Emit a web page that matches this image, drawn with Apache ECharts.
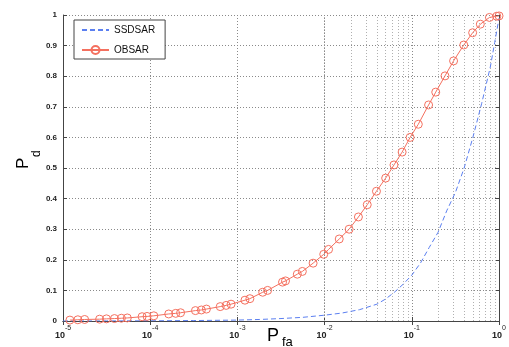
<!DOCTYPE html>
<html><head><meta charset="utf-8">
<script src="https://cdn.jsdelivr.net/npm/echarts@6/dist/echarts.min.js"></script>
<style>html,body{margin:0;padding:0;background:#fff}#c{width:509px;height:347px}</style>
</head><body><div id="c"></div>
<script>
// OBSAR (red, circle markers): Pfa, Pd
const obsarPfa = [1.2e-5,1.48e-5,1.77e-5,2.63e-5,3.15e-5,3.89e-5,4.67e-5,5.46e-5,8.07e-5,9.2e-5,
  1.10e-4,1.63e-4,1.96e-4,2.23e-4,3.30e-4,3.86e-4,4.41e-4,6.35e-4,7.43e-4,8.45e-4,
  1.22e-3,1.39e-3,1.95e-3,2.22e-3,3.29e-3,3.56e-3,4.86e-3,5.55e-3,7.38e-3,9.77e-3,
  1.11e-2,1.47e-2,1.91e-2,2.44e-2,3.08e-2,3.93e-2,5.01e-2,6.24e-2,7.74e-2,9.55e-2,
  0.1186,0.1556,0.188,0.240,0.301,0.394,0.498,0.610,0.776,0.942,1.0];
const obsarPd = [0.003,0.004,0.005,0.006,0.007,0.008,0.009,0.010,0.014,0.015,
  0.017,0.023,0.025,0.027,0.034,0.036,0.039,0.047,0.051,0.055,
  0.068,0.073,0.094,0.100,0.127,0.131,0.153,0.162,0.189,0.218,
  0.234,0.268,0.300,0.340,0.380,0.424,0.467,0.510,0.552,0.600,
  0.643,0.706,0.748,0.801,0.850,0.902,0.942,0.970,0.992,0.996,0.997];
// SSDSAR (blue dashed)
const ssdsarPfa = [1e-5,3.16e-5,1e-4,3.16e-4,1e-3,1.78e-3,3.16e-3,5.62e-3,1e-2,1.58e-2,2.51e-2,3.98e-2,
  5.01e-2,6.31e-2,7.94e-2,0.1,0.126,0.158,0.2,0.251,0.316,0.398,0.501,0.631,0.794,0.891,1.0];
const ssdsarPd = [0.000,0.0003,0.0007,0.0015,0.003,0.005,0.008,0.012,0.019,0.026,0.037,0.055,
  0.072,0.094,0.12,0.15,0.19,0.24,0.29,0.36,0.42,0.50,0.60,0.71,0.83,0.91,0.99];
const seriesNames = ['SSDSAR','OBSAR'];
const yTickLabels = ['0','0.1','0.2','0.3','0.4','0.5','0.6','0.7','0.8','0.9','1'];

const minorGrid = [];
for (let k = -5; k < 0; k++) for (let m = 2; m <= 9; m++) minorGrid.push(m * Math.pow(10, k));

const FONT = 'Liberation Sans, Arial, sans-serif';
const chart = echarts.init(document.getElementById('c'), null, {renderer: 'canvas'});
const xCommon = {type: 'log', logBase: 10, min: 1e-5, max: 1};
chart.setOption({
  animation: false,
  grid: {left: 63, right: 5, top: 15, bottom: 26},
  legend: {
    data: [
      {name: seriesNames[0], itemStyle: {opacity: 0}},
      {name: seriesNames[1]}
    ],
    orient: 'vertical', left: 74, top: 20,
    borderColor: '#444', borderWidth: 1, backgroundColor: '#fff', borderRadius: 0,
    padding: [5, 10, 4, 7], itemWidth: 27, itemHeight: 10, itemGap: 10,
    textStyle: {fontSize: 10, color: '#111', fontFamily: FONT}
  },
  xAxis: [
    Object.assign({}, xCommon, {
      position: 'bottom',
      axisLine: {lineStyle: {color: '#444', width: 1}},
      axisTick: {inside: true, length: 4, lineStyle: {color: '#444'}},
      splitLine: {show: true, lineStyle: {type: [1, 2], color: '#8a8a8a'}},
      axisLabel: {
        margin: 4,
        formatter: function (v) { return '{b|10}{e|' + Math.round(Math.log10(v)) + '}'; },
        rich: {
          b: {fontSize: 9, fontWeight: 'bold', fontFamily: FONT, color: '#222', lineHeight: 15, verticalAlign: 'bottom'},
          e: {fontSize: 7, fontFamily: FONT, color: '#222', lineHeight: 8, verticalAlign: 'top'}
        }
      }
    }),
    Object.assign({}, xCommon, {
      position: 'top',
      axisLine: {lineStyle: {color: '#444', width: 1}},
      axisTick: {inside: true, length: 4, lineStyle: {color: '#444'}},
      axisLabel: {show: false}, splitLine: {show: false}
    })
  ],
  yAxis: [
    {
      type: 'value', min: 0, max: 1, interval: 0.1, position: 'left',
      axisLine: {show: true, lineStyle: {color: '#444'}},
      axisTick: {show: true, inside: true, length: 4, lineStyle: {color: '#444'}},
      splitLine: {show: true, lineStyle: {type: [1, 2], color: '#8a8a8a'}},
      axisLabel: {
        margin: 6, fontSize: 8, fontWeight: 'bold', fontFamily: FONT, color: '#222',
        formatter: function (v) { return yTickLabels[Math.round(v * 10)]; }
      }
    },
    {
      type: 'value', min: 0, max: 1, interval: 0.1, position: 'right',
      axisLine: {show: true, lineStyle: {color: '#444'}},
      axisTick: {show: true, inside: true, length: 4, lineStyle: {color: '#444'}},
      splitLine: {show: false}, axisLabel: {show: false}
    }
  ],
  series: [
    {
      name: '_minor', type: 'line', data: [], z: 1, silent: true,
      markLine: {
        silent: true, symbol: 'none', z: 1, animation: false,
        label: {show: false},
        lineStyle: {type: [1, 2], color: '#b0b0b0', width: 1},
        emphasis: {disabled: true},
        data: minorGrid.map(function (v) { return {xAxis: v}; })
      }
    },
    {
      name: 'SSDSAR', type: 'line', z: 3, showSymbol: false, symbol: 'none',
      data: ssdsarPfa.map(function (x, i) { return [x, ssdsarPd[i]]; }),
      lineStyle: {color: '#5b7ff0', width: 1, type: [5, 3]},
      itemStyle: {color: '#5b7ff0'}
    },
    {
      name: 'OBSAR', type: 'line', z: 4, symbol: 'circle', symbolSize: 8,
      data: obsarPfa.map(function (x, i) { return [x, obsarPd[i]]; }),
      lineStyle: {color: '#f4705f', width: 1},
      itemStyle: {color: 'rgba(255,255,255,0)', borderColor: '#f4705f', borderWidth: 1}
    }
  ],
  graphic: [
    {type: 'text', x: 267, y: 327, style: {text: 'P', fontSize: 18, fontFamily: FONT, fill: '#000', align: 'left', verticalAlign: 'top'}},
    {type: 'text', x: 282, y: 336, style: {text: 'fa', fontSize: 13, fontFamily: FONT, fill: '#000', align: 'left', verticalAlign: 'top'}},
    {type: 'text', x: 15, y: 169, rotation: Math.PI / 2, style: {text: 'P', fontSize: 17, fontFamily: FONT, fill: '#000', align: 'left', verticalAlign: 'top'}},
    {type: 'text', x: 31, y: 157, rotation: Math.PI / 2, style: {text: 'd', fontSize: 12, fontFamily: FONT, fill: '#000', align: 'left', verticalAlign: 'top'}}
  ]
});
</script>
</body></html>
